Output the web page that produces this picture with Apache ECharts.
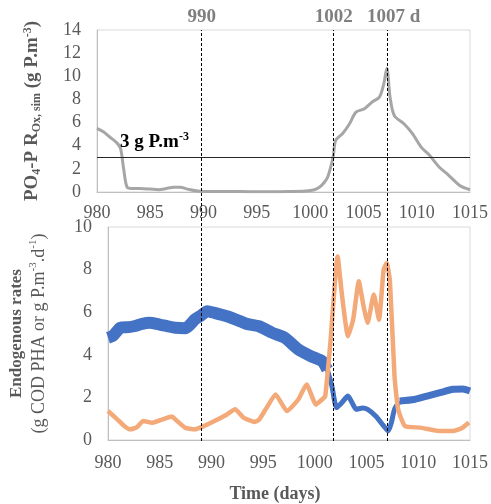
<!DOCTYPE html>
<html><head><meta charset="utf-8">
<script src="https://cdn.jsdelivr.net/npm/echarts@6/dist/echarts.min.js"></script>
<style>html,body{margin:0;padding:0;background:#fff}#c{width:491px;height:504px}</style>
</head><body><div id="c"></div>
<script>
// ---- data ----
const xTicks = [980, 985, 990, 995, 1000, 1005, 1010, 1015];
const po4Days = [980, 980.6, 981.2, 981.8, 982.2, 982.5, 982.8, 983.2, 984, 985, 985.8, 986.5, 987.2, 987.8, 988.5, 989.3, 990, 992, 995, 998, 999.6, 1000.4, 1000.9, 1001.3, 1001.65, 1002.15, 1002.4, 1003.05, 1003.7, 1004.3, 1005.1, 1005.85, 1006.5, 1006.9, 1007.2, 1007.5, 1007.9, 1008.8, 1009.6, 1010.4, 1011.2, 1012.1, 1013.0, 1014.0, 1014.5, 1015];
const po4Vals = [5.5, 5.2, 4.75, 4.3, 3.8, 2.0, 0.45, 0.3, 0.3, 0.25, 0.2, 0.3, 0.4, 0.4, 0.25, 0.1, 0.05, 0.05, 0.02, 0.05, 0.09, 0.2, 0.43, 0.8, 1.3, 3.0, 4.47, 5.05, 5.9, 6.9, 7.2, 7.8, 8.2, 9.3, 10.7, 8.2, 6.6, 5.9, 5.05, 3.9, 3.17, 2.16, 1.44, 0.58, 0.35, 0.2];
const threshold = 3;
const eventDays = [989.8, 1002.15, 1007.2];
const eventLabels = ['990', '1002', '1007 d'];

const blueA = [[980, 4.8], [980.5, 4.9], [981.2, 5.27], [982, 5.3], [982.5, 5.34], [983.3, 5.45], [984, 5.5], [985, 5.42], [985.7, 5.35], [986.5, 5.27], [987.5, 5.25], [988.4, 5.66], [989, 5.85], [989.6, 6.05], [990.3, 5.97], [991.5, 5.81], [992.75, 5.58], [993.4, 5.45], [994.6, 5.34], [995.9, 5.03], [997.1, 4.8], [998.4, 4.25], [999.6, 3.94], [1000.7, 3.7], [1001.2, 3.31]];
const blueB = [[1001.2, 3.31], [1001.65, 2.53], [1002.1, 1.52], [1002.6, 1.75], [1003.2, 2.06], [1003.6, 1.75], [1004.0, 1.44], [1004.6, 1.5], [1005.1, 1.44], [1005.9, 1.12], [1006.65, 0.66], [1007.1, 0.42], [1007.4, 0.82], [1007.7, 1.44], [1008.2, 1.83]];
const blueC = [[1008.2, 1.83], [1009.6, 1.9], [1010.85, 2.06], [1012.1, 2.22], [1013.35, 2.38], [1014.3, 2.4], [1015, 2.3]];
const orange = [[980, 1.36], [980.9, 0.97], [981.6, 0.65], [982.15, 0.5], [982.8, 0.6], [983.4, 0.89], [984.3, 0.81], [985.3, 0.97], [986.2, 1.1], [986.5, 0.97], [987.45, 0.58], [988.4, 0.5], [989.3, 0.66], [990.3, 0.89], [991.5, 1.2], [992.3, 1.44], [993.1, 1.05], [994.2, 0.85], [994.6, 0.95], [995.25, 1.44], [996.2, 2.14], [997.3, 1.36], [998.4, 1.9], [999.2, 2.61], [1000.1, 1.67], [1000.7, 1.9], [1001.0, 2.06], [1001.5, 4.56], [1002.2, 8.62], [1002.6, 6.9], [1003.2, 4.87], [1003.7, 5.65], [1004.25, 7.45], [1004.7, 6.3], [1005.1, 5.5], [1005.7, 6.83], [1006.2, 5.65], [1006.65, 8.0], [1006.95, 8.31], [1007.26, 7.45], [1007.7, 3.0], [1008.05, 1.44], [1008.7, 0.66], [1010.2, 0.58], [1012.1, 0.42], [1013.35, 0.42], [1014.2, 0.55], [1014.9, 0.82]];

// ---- chart ----
const serif = 'Liberation Serif';
const grey = '#595959';
const chart = echarts.init(document.getElementById('c'), null, {renderer: 'canvas'});
const L = 97, R = 20;
const xAxisBase = (gi, show, margin) => ({
  type: 'value', gridIndex: gi, min: 980, max: 1015, interval: 5, show: show,
  axisLine: {show: true, lineStyle: {color: '#bfbfbf', width: 1}},
  axisTick: {show: false}, splitLine: {show: false},
  axisLabel: {show: true, color: grey, fontFamily: serif, fontSize: 18, margin: margin,
    formatter: v => (xTicks.indexOf(v) >= 0 ? String(v) : '')}
});
chart.setOption({
  animation: false,
  grid: [
    {left: L, right: R, top: 30, height: 162, show: true, borderColor: '#d9d9d9', borderWidth: 1},
    {left: L, right: R, top: 227, height: 214, show: true, borderColor: '#d9d9d9', borderWidth: 1},
    {left: L, right: R, top: 30, height: 411}
  ],
  xAxis: [
    xAxisBase(0, true, 12),
    Object.assign(xAxisBase(1, true, 14), {
      name: 'Time (days)', nameLocation: 'middle', nameGap: 45,
      nameTextStyle: {fontFamily: serif, fontSize: 18, fontWeight: 'bold', color: grey, padding: [0, 28, 0, 0]}
    }),
    {type: 'value', gridIndex: 2, min: 980, max: 1015, show: false}
  ],
  yAxis: [
    {type: 'value', gridIndex: 0, min: 0, max: 14, interval: 2,
      axisLine: {show: true, lineStyle: {color: '#bfbfbf'}}, axisTick: {show: false}, splitLine: {show: false},
      axisLabel: {color: grey, fontFamily: serif, fontSize: 18, margin: 16},
      name: 'PO{sub|4}-P R{sub|Ox, sim} (g P.m{sup|-3})', nameLocation: 'middle', nameRotate: 90, nameGap: 54,
      nameTextStyle: {fontFamily: serif, fontSize: 19, fontWeight: 'bold', color: grey,
        rich: {
          sub: {fontFamily: serif, fontSize: 12, fontWeight: 'bold', color: grey, verticalAlign: 'bottom', padding: [9, 0, 0, 0]},
          sup: {fontFamily: serif, fontSize: 12, fontWeight: 'bold', color: grey, verticalAlign: 'top', padding: [0, 0, 9, 0]}
        }}
    },
    {type: 'value', gridIndex: 1, min: 0, max: 10, interval: 2,
      axisLine: {show: true, lineStyle: {color: '#bfbfbf'}}, axisTick: {show: false}, splitLine: {show: false},
      axisLabel: {color: grey, fontFamily: serif, fontSize: 18, margin: 16},
      name: '{b|Endogenous rates}\n{n|(g COD PHA or g P.m}{sup|-3}{n|.d}{sup|-1}{n|)}', nameLocation: 'middle', nameRotate: 90, nameGap: 57,
      nameTextStyle: {fontFamily: serif, fontSize: 18, color: grey,
        rich: {
          b: {fontFamily: serif, fontSize: 17, fontWeight: 'bold', color: grey, lineHeight: 23},
          n: {fontFamily: serif, fontSize: 18, color: grey, lineHeight: 23},
          sup: {fontFamily: serif, fontSize: 11, color: grey, verticalAlign: 'top', lineHeight: 23, padding: [0, 0, 9, 0]}
        }}
    },
    {type: 'value', gridIndex: 2, min: 0, max: 1, show: false}
  ],
  series: [
    {type: 'line', xAxisIndex: 0, yAxisIndex: 0, showSymbol: false, smooth: 0.3,
      data: po4Days.map((d, i) => [d, po4Vals[i]]),
      lineStyle: {color: '#a6a6a6', width: 3}, z: 3,
      markLine: {silent: true, symbol: ['none', 'none'],
        lineStyle: {color: '#262626', width: 1.2, type: 'solid'},
        label: {show: true, position: 'insideStartTop', distance: [23, 5], formatter: '3 g P.m{sup|-3}',
          fontFamily: serif, fontSize: 19, fontWeight: 'bold', color: '#000',
          rich: {sup: {fontFamily: serif, fontSize: 12, fontWeight: 'bold', color: '#000', verticalAlign: 'top', padding: [0, 0, 9, 0]}}},
        data: [{yAxis: threshold}]}
    },
    {type: 'line', xAxisIndex: 1, yAxisIndex: 1, showSymbol: false, smooth: 0.2, data: blueA,
      lineStyle: {color: '#4472C4', width: 12}, z: 3},
    {type: 'line', xAxisIndex: 1, yAxisIndex: 1, showSymbol: false, smooth: 0.2, data: blueB,
      lineStyle: {color: '#4472C4', width: 5}, z: 3},
    {type: 'line', xAxisIndex: 1, yAxisIndex: 1, showSymbol: false, smooth: 0.2, data: blueC,
      lineStyle: {color: '#4472C4', width: 7}, z: 3},
    {type: 'line', xAxisIndex: 1, yAxisIndex: 1, showSymbol: false, smooth: 0.15, data: orange,
      lineStyle: {color: '#F4A979', width: 4.5}, z: 4},
    {type: 'line', xAxisIndex: 2, yAxisIndex: 2, data: [], z: 6,
      markLine: {silent: true, symbol: ['none', 'none'],
        lineStyle: {color: '#000', width: 1, type: [3, 2]},
        label: {show: true, position: 'end', distance: 3, fontFamily: serif, fontSize: 19, fontWeight: 'bold', color: '#7f7f7f',
          formatter: p => p.name},
        data: eventDays.map((d, i) => ({xAxis: d, name: eventLabels[i],
          label: i === 2 ? {padding: [0, 0, 0, 12]} : {}}))}
    }
  ]
});
</script></body></html>
